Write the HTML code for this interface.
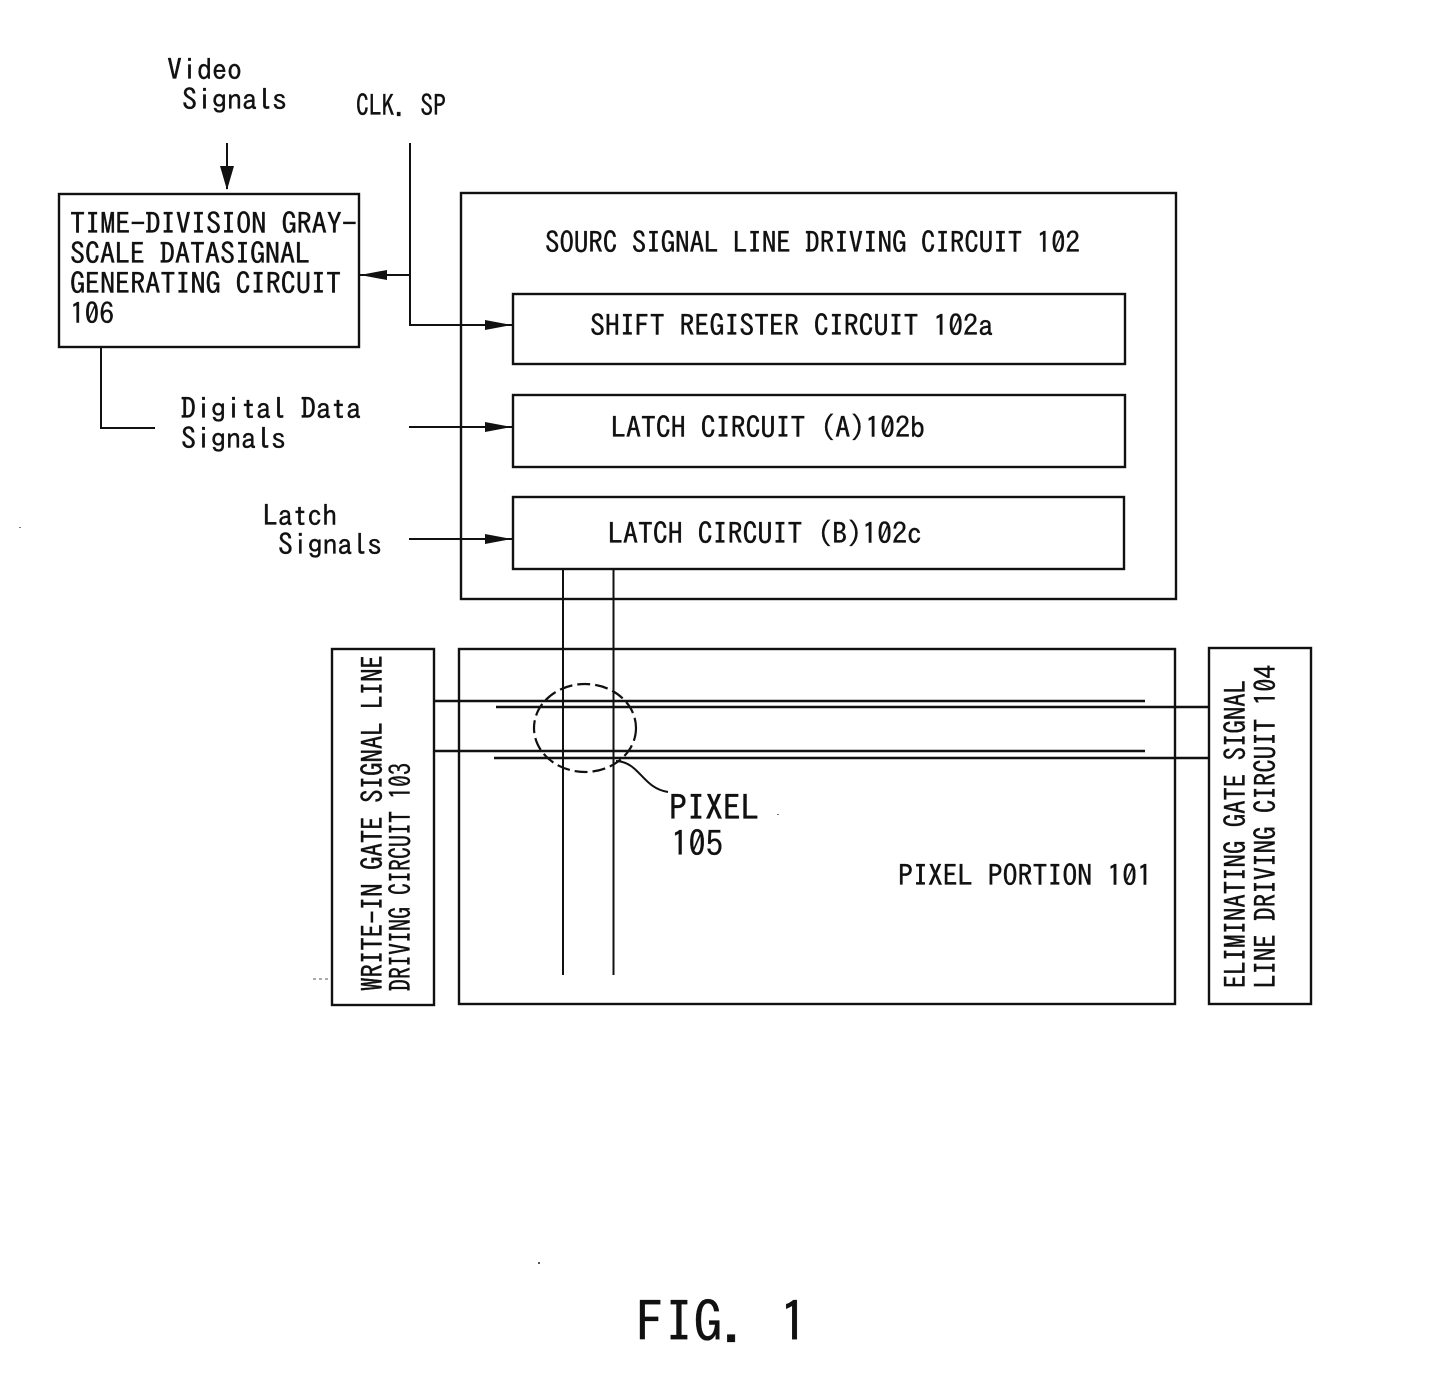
<!DOCTYPE html>
<html><head><meta charset="utf-8"><style>
html,body{margin:0;padding:0;background:#fff}
svg{display:block}
text{font-family:"IPAGothic","Liberation Mono",monospace;fill:#111;font-size:29px;stroke:#111;stroke-width:.35}
.l{stroke:#111;stroke-width:2;fill:none}
.b{stroke:#111;stroke-width:2.4;fill:none}
</style></head><body>
<svg width="1440" height="1376" viewBox="0 0 1440 1376" xmlns="http://www.w3.org/2000/svg">
<defs><marker id="a" markerWidth="28" markerHeight="14" refX="27" refY="7" orient="auto" markerUnits="userSpaceOnUse"><path d="M0 2L27 7L0 12z" fill="#111"/></marker></defs>
<text x="167" y="80" textLength="75" lengthAdjust="spacingAndGlyphs">Video</text>
<text x="182" y="110" textLength="105" lengthAdjust="spacingAndGlyphs">Signals</text>
<text x="356" y="116" textLength="90" lengthAdjust="spacingAndGlyphs">CLK. SP</text>
<path class="l" d="M227 143V189"/><path d="M220 166L227 190L234 166z" fill="#111"/>
<rect class="b" x="59" y="194" width="300" height="153"/>
<text x="70" y="234" textLength="287" lengthAdjust="spacingAndGlyphs">TIME-DIVISION GRAY-</text>
<text x="70" y="264" textLength="240" lengthAdjust="spacingAndGlyphs">SCALE DATASIGNAL</text>
<text x="70" y="294" textLength="271" lengthAdjust="spacingAndGlyphs">GENERATING CIRCUIT</text>
<text x="70" y="324" textLength="44" lengthAdjust="spacingAndGlyphs">106</text>
<path class="l" d="M410 143V325H512" marker-end="url(#a)"/>
<path class="l" d="M410 275H360" marker-end="url(#a)"/>
<path class="l" d="M101 348V428H155"/>
<text x="181" y="419" textLength="180" lengthAdjust="spacingAndGlyphs">Digital Data</text>
<text x="181" y="449" textLength="105" lengthAdjust="spacingAndGlyphs">Signals</text>
<path class="l" d="M409 427H512" marker-end="url(#a)"/>
<text x="263" y="526" textLength="74" lengthAdjust="spacingAndGlyphs">Latch</text>
<text x="278" y="555" textLength="104" lengthAdjust="spacingAndGlyphs">Signals</text>
<path class="l" d="M409 539H512" marker-end="url(#a)"/>
<rect class="b" x="461" y="193" width="715" height="406"/>
<text x="545" y="253" textLength="535" lengthAdjust="spacingAndGlyphs">SOURC SIGNAL LINE DRIVING CIRCUIT 102</text>
<rect class="b" x="513" y="294" width="612" height="70"/>
<text x="590" y="336" textLength="403" lengthAdjust="spacingAndGlyphs">SHIFT REGISTER CIRCUIT 102a</text>
<rect class="b" x="513" y="395" width="612" height="72"/>
<text x="611" y="438" textLength="314" lengthAdjust="spacingAndGlyphs">LATCH CIRCUIT (A)102b</text>
<rect class="b" x="513" y="497" width="611" height="72"/>
<text x="608" y="544" textLength="314" lengthAdjust="spacingAndGlyphs">LATCH CIRCUIT (B)102c</text>
<path class="l" d="M563 570V975M613.500 570V975"/>
<rect class="b" x="332" y="649" width="102" height="356"/>
<rect class="b" x="459" y="649" width="716" height="355"/>
<rect class="b" x="1209" y="648" width="102" height="356"/>
<path class="b" d="M435 701H1145M435 751H1145M496 707H1208M494 758H1208"/>
<ellipse cx="585" cy="728" rx="51" ry="44" fill="none" stroke="#111" stroke-width="2.2" stroke-dasharray="13 5"/>
<path class="l" d="M616 761C640 762 642 788 668 792"/>
<text x="669" y="820" style="font-size:35px" textLength="90" lengthAdjust="spacingAndGlyphs">PIXEL</text>
<text x="671" y="856" style="font-size:35px" textLength="52" lengthAdjust="spacingAndGlyphs">105</text>
<text x="898" y="886" textLength="254" lengthAdjust="spacingAndGlyphs">PIXEL PORTION 101</text>
<text transform="translate(383 991) rotate(-90)" textLength="336" lengthAdjust="spacingAndGlyphs">WRITE-IN GATE SIGNAL LINE</text>
<text transform="translate(411 991) rotate(-90)" textLength="228" lengthAdjust="spacingAndGlyphs">DRIVING CIRCUIT 103</text>
<text transform="translate(1246 988) rotate(-90)" textLength="308" lengthAdjust="spacingAndGlyphs">ELIMINATING GATE SIGNAL</text>
<text transform="translate(1276 988) rotate(-90)" textLength="323" lengthAdjust="spacingAndGlyphs">LINE DRIVING CIRCUIT 104</text>
<text x="636" y="1342" style="font-size:56px" textLength="172" lengthAdjust="spacingAndGlyphs">FIG. 1</text>
<path d="M313 979H330" stroke="#555" stroke-width="1" stroke-dasharray="3 3" fill="none"/>
<rect x="538" y="1262" width="2" height="2" fill="#555"/>
<rect x="19" y="527" width="2" height="1" fill="#777"/>
<rect x="777" y="814" width="2" height="1" fill="#777"/>
</svg></body></html>
